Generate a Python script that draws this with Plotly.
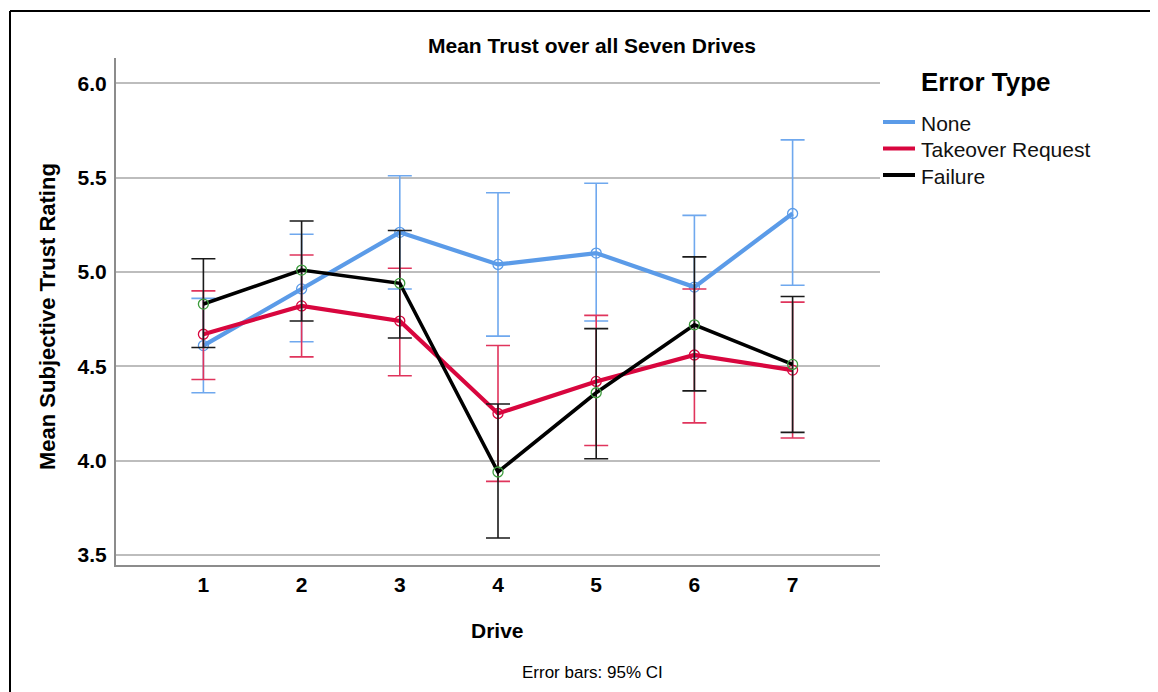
import plotly.graph_objects as go

drives = [1, 2, 3, 4, 5, 6, 7]
series_names = ["None", "Takeover Request", "Failure"]

none_mean = [4.61, 4.91, 5.21, 5.04, 5.10, 4.92, 5.31]
none_upper = [4.86, 5.20, 5.51, 5.42, 5.47, 5.30, 5.70]
none_lower = [4.36, 4.63, 4.91, 4.66, 4.74, 4.55, 4.93]

tor_mean = [4.67, 4.82, 4.74, 4.25, 4.42, 4.56, 4.48]
tor_upper = [4.90, 5.09, 5.02, 4.61, 4.77, 4.91, 4.84]
tor_lower = [4.43, 4.55, 4.45, 3.89, 4.08, 4.20, 4.12]

fail_mean = [4.83, 5.01, 4.94, 3.94, 4.36, 4.72, 4.51]
fail_upper = [5.07, 5.27, 5.22, 4.30, 4.70, 5.08, 4.87]
fail_lower = [4.60, 4.74, 4.65, 3.59, 4.01, 4.37, 4.15]

y_ticks = [3.5, 4.0, 4.5, 5.0, 5.5, 6.0]

FONT = "Liberation Sans, Arial, sans-serif"

series = [
    (series_names[0], none_mean, none_upper, none_lower, "#5b9be8", "#6fa8ee", "#5b9be8", 4.2),
    (series_names[1], tor_mean, tor_upper, tor_lower, "#d8063e", "#e0345c", "#d8063e", 4.2),
    (series_names[2], fail_mean, fail_upper, fail_lower, "#000000", "#1a1a1a", "#3c9c3c", 3.6),
]

fig = go.Figure()
for name, mean, up, lo, lc, ec, mc, lw in series:
    fig.add_trace(go.Scatter(
        x=drives, y=mean, mode="lines+markers", showlegend=False, name=name,
        line=dict(color=lc, width=lw),
        marker=dict(symbol="circle-open", size=10, color=mc, line=dict(width=1.3, color=mc)),
        error_y=dict(type="data", symmetric=False,
                     array=[u - m for u, m in zip(up, mean)],
                     arrayminus=[m - l for m, l in zip(mean, lo)],
                     color=ec, thickness=1.6, width=12),
    ))

# page is rendered with an 8px body margin; work in screen coordinates
OFF = 8
W, H = 1158 - OFF, 692 - OFF
L, R, T, B = 116 - OFF, 1158 - 880, 58 - OFF, 692 - 565
pw, ph = W - L - R, H - T - B


def xp(px):
    return (px - OFF - L) / pw


def yp(py):
    return (H - B - (py - OFF)) / ph


fig.update_layout(
    width=W, height=H,
    margin=dict(l=L, r=R, t=T, b=B, pad=0),
    paper_bgcolor="white", plot_bgcolor="white",
    font=dict(family=FONT, color="black"),
    showlegend=False,
    xaxis=dict(range=[0.11, 7.89], tickmode="array", tickvals=drives,
               ticktext=[str(d) for d in drives],
               showgrid=False, zeroline=False, showline=True,
               linecolor="#8c8c8c", linewidth=2, ticks="",
               ticklabelstandoff=0,
               tickfont=dict(size=21, family=FONT, color="black", weight="bold")),
    yaxis=dict(range=[3.447, 6.134], tickmode="array", tickvals=y_ticks,
               ticktext=[f"{v:.1f}" for v in y_ticks],
               showgrid=True, gridcolor="#bdbdbd", gridwidth=1.5,
               zeroline=False, showline=True, linecolor="#8c8c8c", linewidth=2,
               ticks="", ticklabelstandoff=3,
               tickfont=dict(size=21, family=FONT, color="black", weight="bold")),
)

annotations = [
    dict(text="Mean Trust over all Seven Drives", x=xp(592), y=yp(45),
         font=dict(size=21, weight="bold")),
    dict(text="Mean Subjective Trust Rating", x=xp(47), y=yp(317), textangle=-90,
         font=dict(size=22, weight="bold")),
    dict(text="Drive", x=xp(497.5), y=yp(630), font=dict(size=21, weight="bold")),
    dict(text="Error bars: 95% CI", x=xp(592), y=yp(672), font=dict(size=17)),
    dict(text="Error Type", x=xp(919), y=yp(82), xanchor="left",
         font=dict(size=26, weight="bold")),
]
# legend entries (line swatch + label)
legend_y = [122, 148.5, 175]
for (name, mean, up, lo, lc, ec, mc, lw), ly in zip(series, legend_y):
    fig.add_shape(type="line", xref="paper", yref="paper",
                  x0=xp(883), x1=xp(915), y0=yp(ly), y1=yp(ly),
                  line=dict(color=lc, width=4))
    annotations.append(dict(text=name, x=xp(919), y=yp(ly + 1), xanchor="left",
                            font=dict(size=21, color="#111")))

for a in annotations:
    a.setdefault("xanchor", "center")
    fig.add_annotation(xref="paper", yref="paper", showarrow=False, yanchor="middle", **a)
fig.update_annotations(font_family=FONT)

fig.add_shape(type="line", xref="paper", yref="paper", x0=xp(10), x1=xp(10),
              y0=yp(700), y1=yp(11), line=dict(color="black", width=2))
fig.add_shape(type="line", xref="paper", yref="paper", x0=xp(10), x1=xp(1165),
              y0=yp(11), y1=yp(11), line=dict(color="black", width=2))

fig.write_html("out.html")
